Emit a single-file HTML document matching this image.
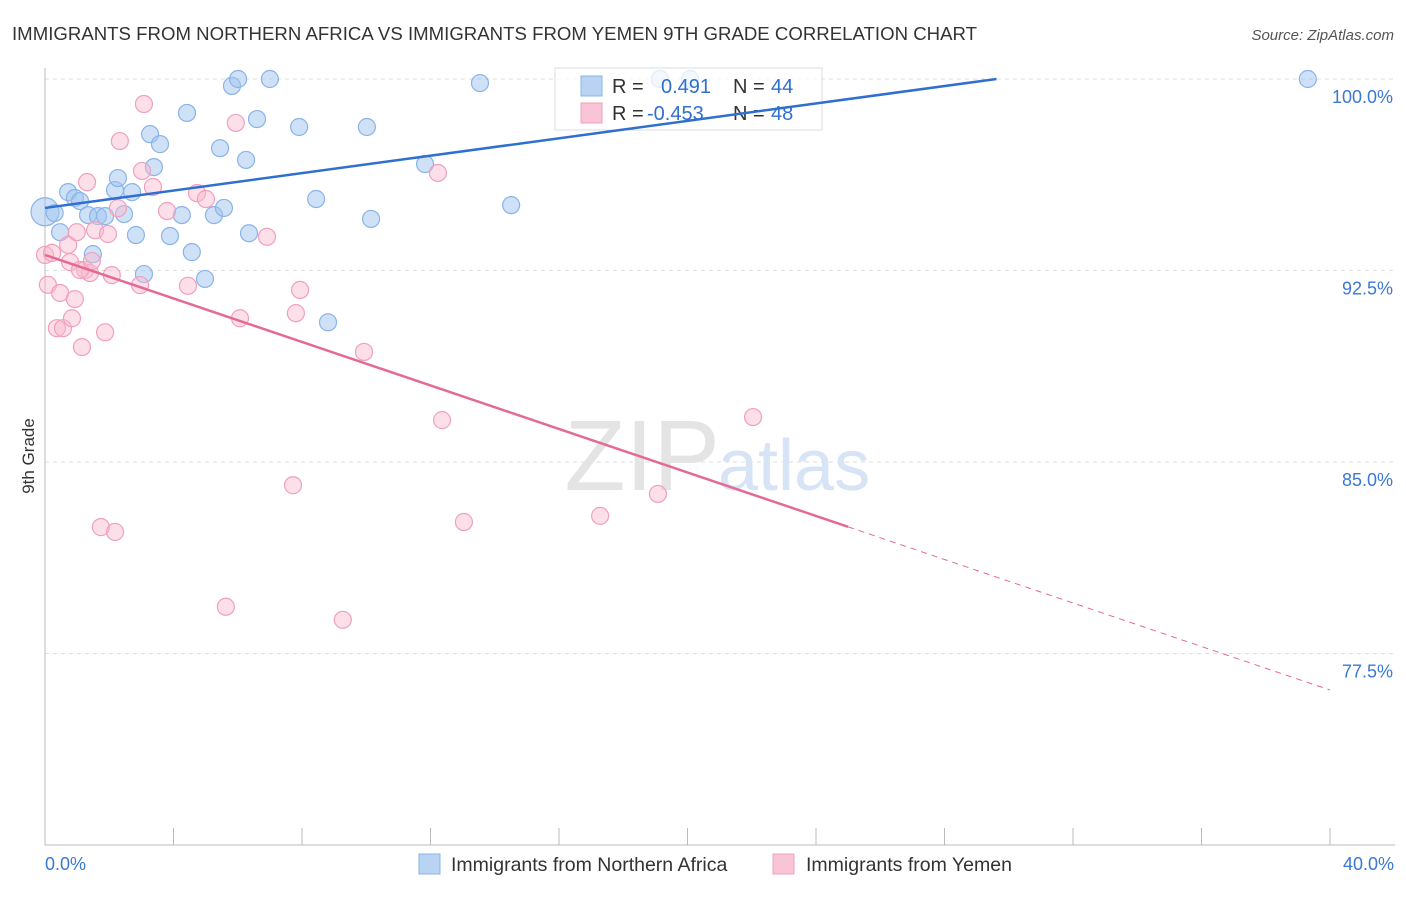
<!DOCTYPE html>
<html><head><meta charset="utf-8"><style>
body{margin:0;background:#fff;font-family:"Liberation Sans",sans-serif;}
svg text{font-family:"Liberation Sans",sans-serif;}
</style></head><body>
<svg id="chart" width="1406" height="892" viewBox="0 0 1406 892">
<text x="12" y="40" font-size="18.6" fill="#333" textLength="965">IMMIGRANTS FROM NORTHERN AFRICA VS IMMIGRANTS FROM YEMEN 9TH GRADE CORRELATION CHART</text>
<text x="1394" y="40" font-size="15" fill="#555" text-anchor="end" font-style="italic">Source: ZipAtlas.com</text>
<text x="34" y="456" font-size="17" fill="#333" text-anchor="middle" transform="rotate(-90 34 456)">9th Grade</text>
<g id="grid"></g>
<text x="720" y="490" font-size="100" fill="#e4e4e4" text-anchor="end" font-family="Liberation Serif">ZIP</text>
<text x="718" y="490" font-size="72" fill="#d6e4f5">atlas</text>
<g id="pts"></g>
<g>
<rect x="555" y="68" width="267" height="62" fill="rgba(255,255,255,0.75)" stroke="#ddd"/>
<rect x="581" y="76" width="21" height="20" fill="#b9d3f3" stroke="#8ab3e8"/>
<rect x="581" y="103" width="21" height="20" fill="#f9c5d6" stroke="#f0a0bc"/>
<text x="612" y="93" font-size="20" fill="#333">R = </text><text x="661" y="93" font-size="20" fill="#2f6fd0">0.491</text>
<text x="733" y="93" font-size="20" fill="#333">N = </text><text x="771" y="93" font-size="20" fill="#2f6fd0">44</text>
<text x="612" y="120" font-size="20" fill="#333">R = </text><text x="647" y="120" font-size="20" fill="#2f6fd0">-0.453</text>
<text x="733" y="120" font-size="20" fill="#333">N = </text><text x="771" y="120" font-size="20" fill="#2f6fd0">48</text>
</g>
<g id="lines"></g>
<g>
<rect x="419" y="854" width="21" height="20" fill="#b9d3f3" stroke="#8ab3e8"/>
<text x="451" y="871" font-size="19.5" fill="#333">Immigrants from Northern Africa</text>
<rect x="773" y="854" width="21" height="20" fill="#f9c5d6" stroke="#f0a0bc"/>
<text x="806" y="871" font-size="19.5" fill="#333">Immigrants from Yemen</text>
</g>
<text x="45" y="870" font-size="18" fill="#3a78d4">0.0%</text>
<text x="1394" y="870" font-size="18" fill="#3a78d4" text-anchor="end">40.0%</text>
</svg>
<script>
const yTicks=[100,92.5,85,77.5];
const yTickLabels=["100.0%","92.5%","85.0%","77.5%"];
const blueX=[0,0.3,0.47,0.72,0.93,1.09,1.34,1.65,1.87,1.49,2.18,2.27,2.46,2.71,2.83,3.08,3.27,3.39,3.58,3.89,4.26,4.42,4.57,4.98,5.26,5.45,5.57,5.82,6.01,6.26,6.35,6.6,7.0,7.91,8.44,8.81,10.02,10.15,11.83,13.54,14.51,19.14,20.08,39.31];
const blueY=[94.8,94.75,94.0,95.57,95.34,95.22,94.67,94.63,94.63,93.14,95.65,96.12,94.71,95.57,93.89,92.36,97.84,96.55,97.45,93.85,94.67,98.67,93.22,92.17,94.67,97.29,94.95,99.73,100,96.83,93.96,98.43,100,98.12,95.3,90.47,98.12,94.52,96.67,99.84,95.06,100,100,100];
const pinkX=[0,0.09,0.22,0.37,0.47,0.56,0.72,0.78,0.84,0.93,0.99,1.15,1.25,1.31,1.4,1.56,1.74,1.87,1.96,2.08,2.18,2.27,2.33,2.96,3.02,3.08,3.36,3.8,4.45,4.73,5.01,5.63,5.94,6.07,6.91,7.72,7.81,7.94,9.27,9.93,12.23,12.36,13.04,17.28,19.08,22.04,1.09,1.46];
const pinkY=[93.11,91.94,93.19,90.24,91.62,90.24,93.5,92.83,90.63,91.38,94.0,89.5,92.52,95.96,92.4,94.08,82.45,90.08,93.93,92.32,82.26,94.94,97.57,91.93,96.4,99.02,95.77,94.83,91.9,95.53,95.3,79.33,98.28,90.63,93.82,84.09,90.83,91.74,78.82,89.31,96.32,86.64,82.65,82.89,83.75,86.76,92.52,92.87];
const blueLine=[94.95,101.77];
const pinkLine=[93.11,76.07];
const NS="http://www.w3.org/2000/svg";
const X0=45,X1=1330,Y0=79,PY=191.5/7.5;
function sx(v){return X0+(v/40)*(X1-X0);}
function sy(v){return Y0+(100-v)*PY;}
function mk(tag,attrs,parent){const e=document.createElementNS(NS,tag);for(const k in attrs)e.setAttribute(k,attrs[k]);parent.appendChild(e);return e;}
const grid=document.getElementById('grid');
yTicks.forEach((t,i)=>{
 const l=mk('line',{x1:X0,x2:1395,y1:sy(t),y2:sy(t),stroke:'#ddd','stroke-dasharray':'4,4'},grid);
 
 
 const tx=mk('text',{x:1393,y:sy(t)+24,'font-size':18,fill:'#3a78d4','text-anchor':'end'},grid);
 tx.textContent=yTickLabels[i];
 
 
});
mk('line',{x1:X0,x2:X0,y1:68,y2:845,stroke:'#bbb'},grid);
mk('line',{x1:X0,x2:1395,y1:845,y2:845,stroke:'#bbb'},grid);
for(let i=0;i<=10;i++){const l=mk('line',{x1:sx(i*4),x2:sx(i*4),y1:828,y2:845,stroke:'#bbb'},grid);
 
 }
const pts=document.getElementById('pts');
blueX.forEach((x,i)=>{const c=mk('circle',{cx:sx(x),cy:sy(blueY[i]),r:i==0?14:8.5,fill:'rgba(160,195,240,0.5)',stroke:'#8ab3e8','stroke-width':1.2},pts);
 
 });
pinkX.forEach((x,i)=>{const c=mk('circle',{cx:sx(x),cy:sy(pinkY[i]),r:8.5,fill:'rgba(248,185,206,0.45)',stroke:'#f0a0bc','stroke-width':1.2},pts);
 
 });
const lines=document.getElementById('lines');
const bEnd=(100-blueLine[0])/(blueLine[1]-blueLine[0])*40;
const bl=mk('line',{x1:sx(0),y1:sy(blueLine[0]),x2:sx(bEnd),y2:sy(100),stroke:'#2f6fd0','stroke-width':2.5},lines);


const pAt=v=>pinkLine[0]+(pinkLine[1]-pinkLine[0])*v/40;
const pl=mk('line',{x1:sx(0),y1:sy(pAt(0)),x2:sx(25),y2:sy(pAt(25)),stroke:'#e46a95','stroke-width':2.5},lines);


const pd=mk('line',{x1:sx(25),y1:sy(pAt(25)),x2:sx(40),y2:sy(pAt(40)),stroke:'#e46a95','stroke-width':1,'stroke-dasharray':'6,5'},lines);


</script>
</body></html>
